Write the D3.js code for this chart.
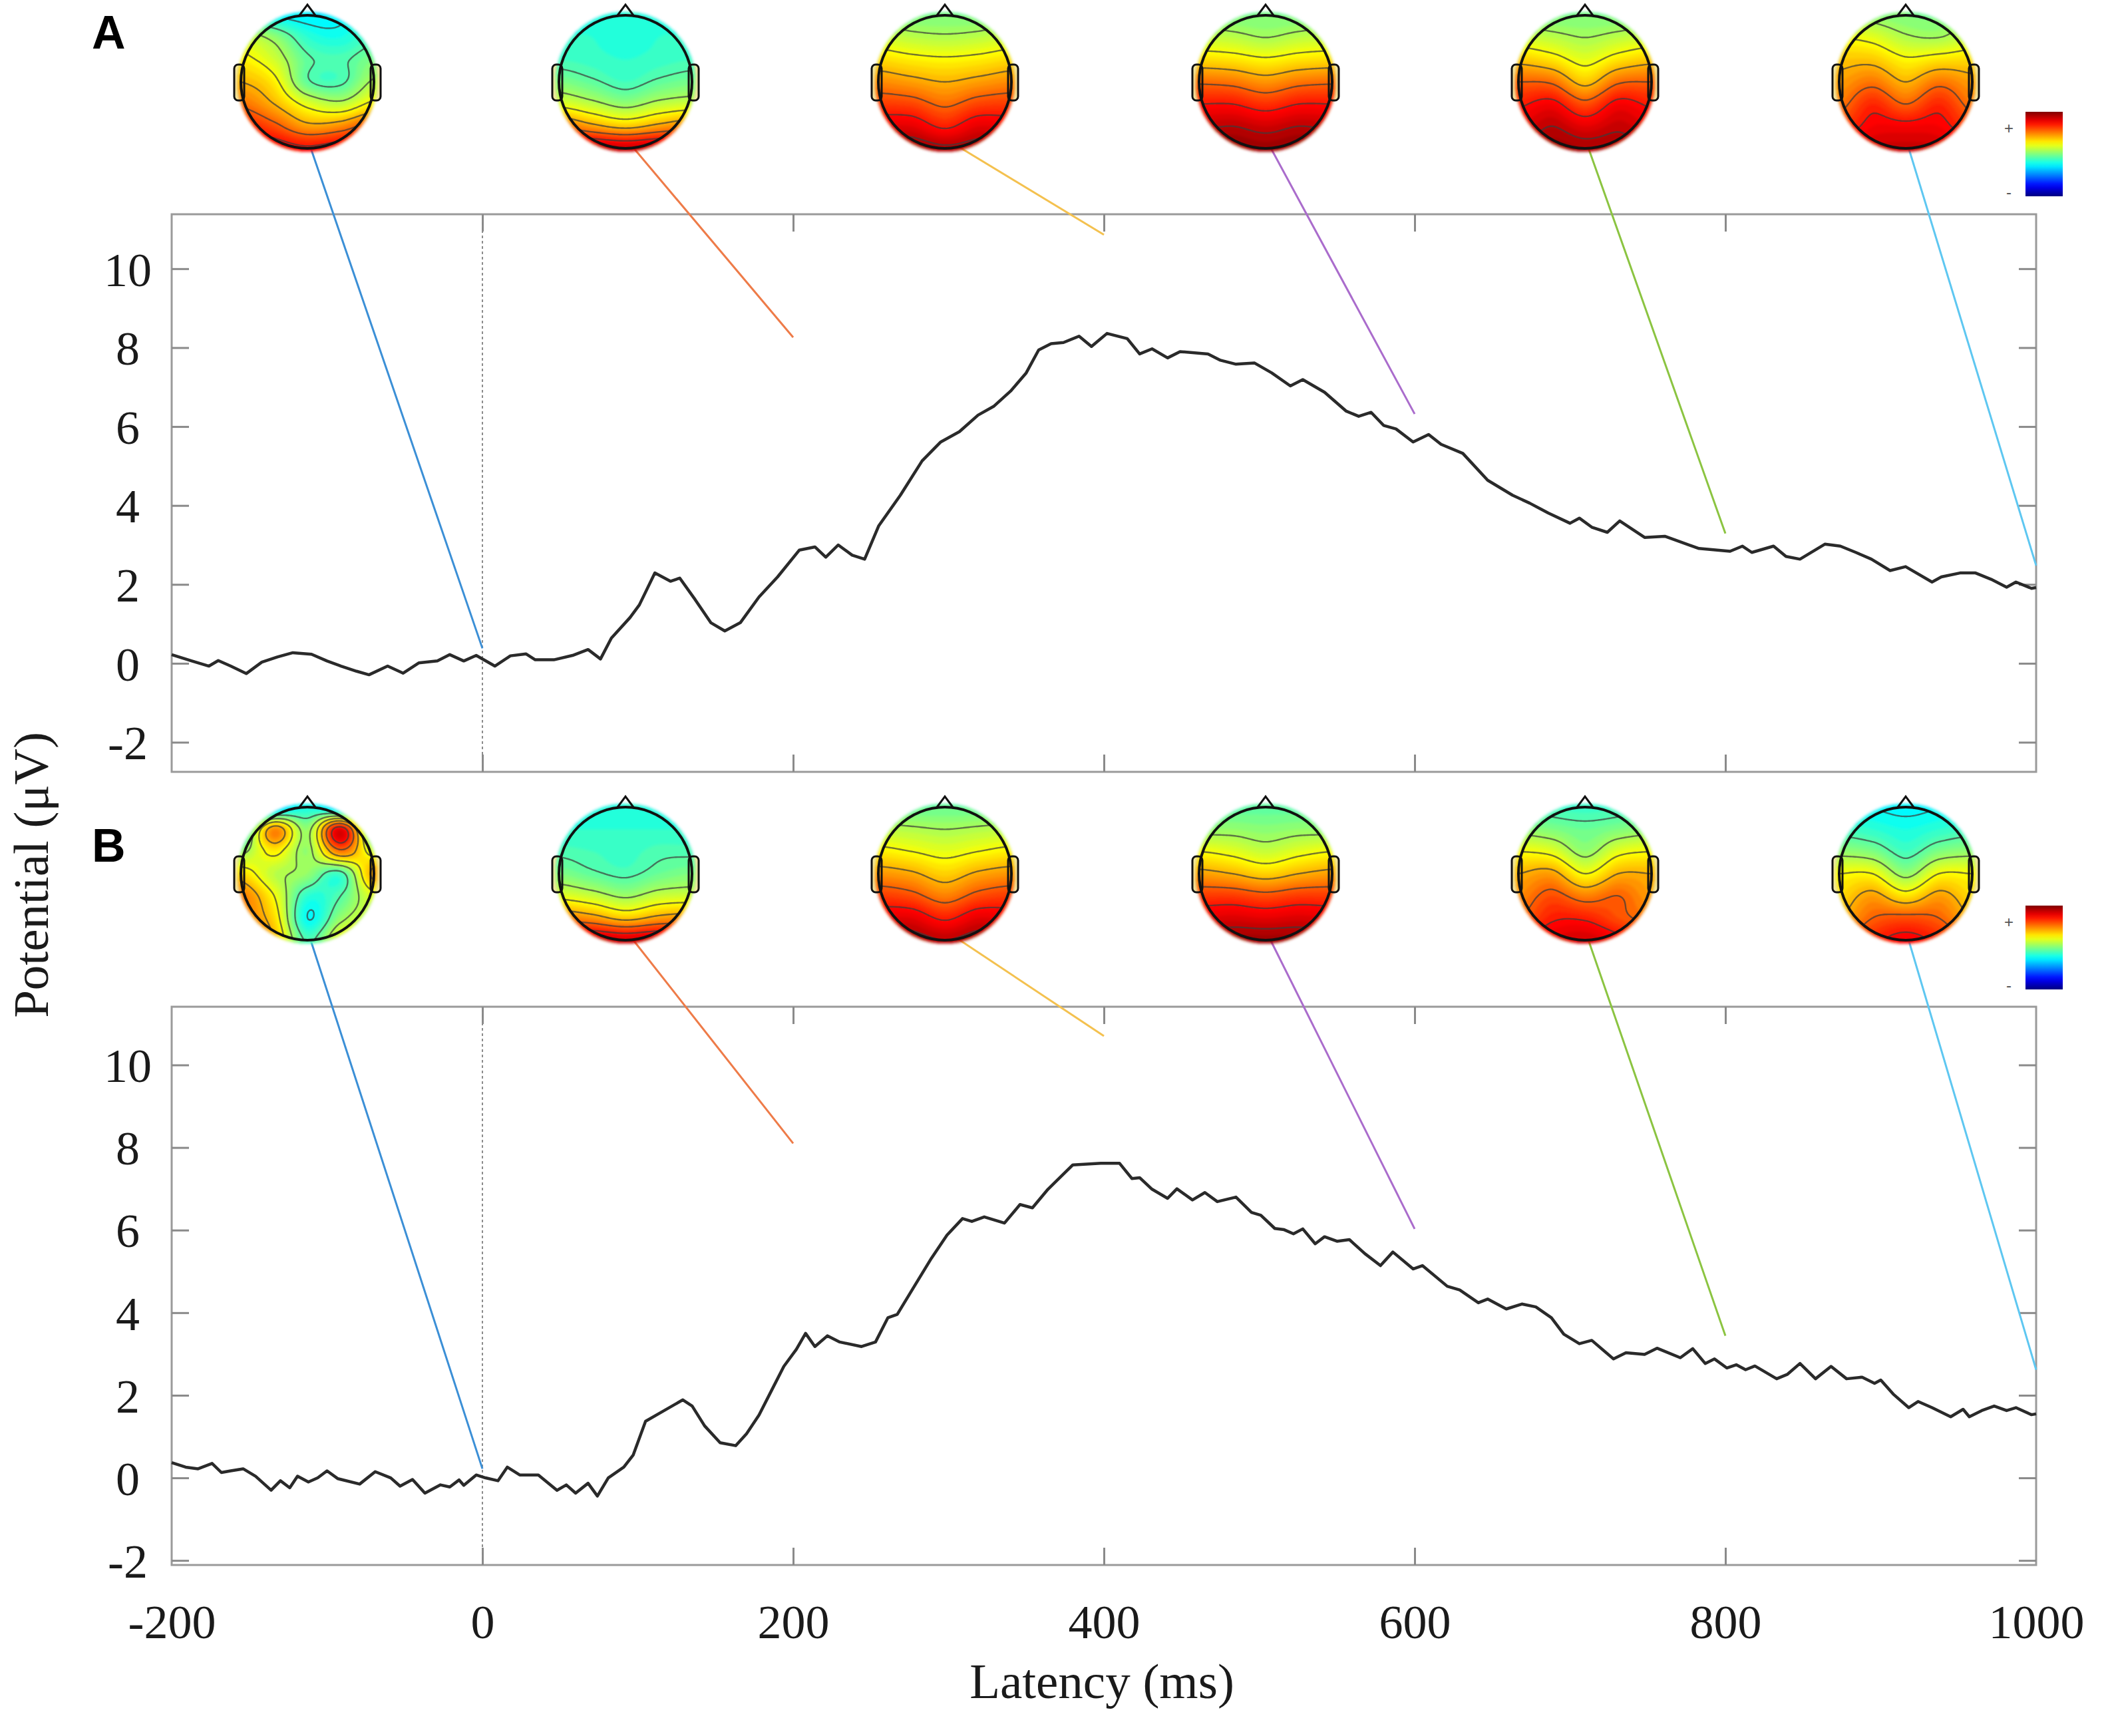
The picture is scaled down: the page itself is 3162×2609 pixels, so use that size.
<!DOCTYPE html>
<html>
<head>
<meta charset="utf-8">
<script src="https://cdn.jsdelivr.net/npm/d3@7/dist/d3.min.js"></script>
<style>
	body { margin: 0; background: #fff; }
	svg { display: block; }
	.tick text { font-family: 'Liberation Serif', 'Times New Roman', serif; font-size: 72px; fill: #1a1a1a; }
	.tick line { stroke: #8a8a8a; stroke-width: 3; }
	.axisTitle { font-family: 'Liberation Serif', 'Times New Roman', serif; font-size: 75px; fill: #1a1a1a; }
	.panelLabel { font-family: 'Liberation Sans', Arial, sans-serif; font-weight: bold; font-size: 70px; fill: #000; }
	.barSign { font-family: 'Liberation Sans', Arial, sans-serif; font-size: 24px; fill: #555; }
</style>
</head>
<body>
<svg id="chart" width="3162" height="2609"></svg>
<script>
/**********************
***** DATA *****
**********************/

// grand average waveform, panel A (latency in ms, potential in microvolts)
const latencyA = [-200, -187, -176, -170, -162, -152, -142, -132, -122, -110, -100, -91, -81, -73, -61, -51, -41, -29, -21, -12, -4,
	8, 18, 28, 34, 46, 58, 68, 76, 83, 95, 101, 111, 121, 127, 137, 147, 156, 166, 178, 190,
	204, 214, 221, 229, 238, 246, 255, 269, 283, 295, 307, 319, 329, 340, 350, 358, 366, 374, 384, 392,
	402, 415, 423, 431, 441, 449, 467, 475, 485, 497, 508, 520, 528, 542, 556, 564, 572, 580, 588, 599,
	609, 617, 631, 647, 663, 674, 686, 700, 706, 714, 724, 732, 748, 761, 783, 803, 811, 817, 831, 839,
	848, 864, 874, 884, 894, 906, 916, 933, 939, 951, 961, 971, 981, 987, 997, 1000];
const potentialA = [0.22, 0.06, -0.07, 0.07, -0.07, -0.26, 0.03, 0.16, 0.27, 0.23, 0.06, -0.07, -0.2, -0.29, -0.07, -0.25, 0.01, 0.06, 0.22, 0.06, 0.2,
	-0.07, 0.19, 0.24, 0.09, 0.09, 0.2, 0.35, 0.11, 0.64, 1.16, 1.48, 2.29, 2.08, 2.16, 1.61, 1.03, 0.82, 1.03, 1.68, 2.19,
	2.87, 2.95, 2.69, 3.0, 2.74, 2.64, 3.48, 4.26, 5.13, 5.61, 5.87, 6.29, 6.51, 6.9, 7.36, 7.94, 8.1, 8.13, 8.29, 8.03,
	8.36, 8.23, 7.84, 7.97, 7.74, 7.9, 7.84, 7.68, 7.58, 7.61, 7.36, 7.03, 7.19, 6.87, 6.39, 6.26, 6.36, 6.03, 5.94, 5.61,
	5.8, 5.55, 5.32, 4.64, 4.26, 4.06, 3.81, 3.55, 3.68, 3.45, 3.32, 3.61, 3.19, 3.22, 2.91, 2.84, 2.97, 2.81, 2.97, 2.71,
	2.64, 3.02, 2.97, 2.81, 2.64, 2.35, 2.45, 2.06, 2.19, 2.29, 2.29, 2.13, 1.93, 2.06, 1.9, 1.92];

// grand average waveform, panel B
const latencyB = [-200, -191, -183, -174, -168, -162, -154, -146, -136, -130, -124, -119, -112, -106, -100, -93, -79, -69, -59, -53, -45,
	-37, -27, -21, -15, -12, -4, 2, 10, 16, 24, 36, 48, 54, 60, 68, 74, 81, 91, 97, 105,
	117, 129, 135, 143, 153, 163, 170, 178, 186, 194, 202, 208, 214, 222, 230, 244, 253, 261, 267, 277,
	289, 299, 309, 315, 323, 336, 346, 354, 364, 380, 398, 410, 418, 423, 431, 441, 447, 457, 465, 473,
	485, 495, 501, 510, 516, 522, 528, 536, 542, 550, 558, 568, 578, 586, 599, 605, 621, 629, 641, 647,
	659, 669, 678, 688, 696, 706, 714, 728, 736, 748, 756, 771, 779, 787, 793, 801, 807, 813, 819, 833,
	840, 848, 858, 868, 878, 888, 896, 900, 908, 918, 924, 933, 945, 953, 957, 965, 973, 981, 987, 997, 1000];
const potentialB = [0.37, 0.26, 0.22, 0.35, 0.13, 0.17, 0.22, 0.04, -0.3, -0.07, -0.24, 0.04, -0.1, 0.0, 0.17, -0.02, -0.15, 0.15, 0.0, -0.2, -0.04,
	-0.37, -0.17, -0.22, -0.05, -0.18, 0.07, 0.0, -0.07, 0.26, 0.07, 0.07, -0.3, -0.17, -0.37, -0.13, -0.44, 0.0, 0.26, 0.55, 1.37,
	1.63, 1.89, 1.74, 1.26, 0.85, 0.78, 1.07, 1.52, 2.11, 2.7, 3.11, 3.5, 3.18, 3.44, 3.29, 3.18, 3.29, 3.88, 3.96, 4.58,
	5.32, 5.88, 6.28, 6.21, 6.32, 6.17, 6.62, 6.54, 6.99, 7.58, 7.62, 7.62, 7.25, 7.27, 6.99, 6.77, 7.0, 6.73, 6.91, 6.69,
	6.8, 6.43, 6.36, 6.04, 6.01, 5.91, 6.03, 5.67, 5.84, 5.73, 5.77, 5.43, 5.14, 5.47, 5.06, 5.14, 4.64, 4.55, 4.24, 4.33,
	4.09, 4.21, 4.14, 3.88, 3.48, 3.25, 3.33, 2.88, 3.03, 2.99, 3.14, 2.91, 3.13, 2.77, 2.88, 2.66, 2.74, 2.62, 2.71, 2.4,
	2.51, 2.77, 2.4, 2.7, 2.4, 2.44, 2.29, 2.37, 2.03, 1.7, 1.85, 1.7, 1.48, 1.66, 1.48, 1.63, 1.74, 1.63, 1.7, 1.53, 1.55];

// axis ticks
const yTicks = [ -2, 0, 2, 4, 6, 8, 10 ];
const xTicks = [ -200, 0, 200, 400, 600, 800, 1000 ];
const xInnerTicks = [ 0, 200, 400, 600, 800 ];

// where each topography connector meets the plot
const mapLatency = [ 0, 200, 400, 600, 800, 1000 ];
const mapEndA = [ 0.38, 8.26, 10.86, 6.32, 3.29, 2.48 ];
const mapEndB = [ 0.22, 8.1, 10.7, 6.03, 3.44, 2.62 ];
const mapColors = [ '#3b8fd6', '#ee7b48', '#f4c14f', '#aa6ccc', '#8bc441', '#5ec7f1' ];

// scalp topographies: rows front -> back, columns left -> right, 0 = negative (blue), 1 = positive (red)
const topoA = [
	[ [0.45, 0.38, 0.36, 0.37, 0.45], [0.58, 0.52, 0.42, 0.40, 0.45], [0.64, 0.58, 0.47, 0.45, 0.50], [0.70, 0.64, 0.47, 0.45, 0.55],
	  [0.77, 0.70, 0.60, 0.56, 0.64], [0.86, 0.80, 0.72, 0.74, 0.82], [0.93, 0.90, 0.87, 0.90, 0.93] ],
	[ [0.42, 0.42, 0.42, 0.42, 0.42], [0.42, 0.42, 0.41, 0.42, 0.42], [0.44, 0.43, 0.42, 0.43, 0.44], [0.50, 0.47, 0.44, 0.47, 0.49],
	  [0.60, 0.56, 0.52, 0.56, 0.58], [0.78, 0.72, 0.68, 0.72, 0.76], [0.95, 0.95, 0.93, 0.95, 0.95] ],
	[ [0.52, 0.50, 0.50, 0.50, 0.52], [0.58, 0.56, 0.55, 0.56, 0.58], [0.66, 0.64, 0.63, 0.64, 0.66], [0.74, 0.72, 0.70, 0.72, 0.74],
	  [0.82, 0.81, 0.77, 0.81, 0.82], [0.90, 0.90, 0.85, 0.90, 0.89], [0.96, 0.97, 0.95, 0.96, 0.95] ],
	[ [0.52, 0.50, 0.50, 0.50, 0.52], [0.57, 0.56, 0.54, 0.56, 0.57], [0.66, 0.65, 0.63, 0.65, 0.66], [0.77, 0.76, 0.73, 0.76, 0.77],
	  [0.86, 0.86, 0.83, 0.86, 0.86], [0.93, 0.94, 0.92, 0.94, 0.93], [0.97, 0.98, 0.97, 0.98, 0.97] ],
	[ [0.52, 0.50, 0.50, 0.50, 0.52], [0.58, 0.56, 0.54, 0.56, 0.58], [0.68, 0.65, 0.60, 0.65, 0.68], [0.78, 0.77, 0.68, 0.77, 0.78],
	  [0.85, 0.88, 0.80, 0.88, 0.85], [0.90, 0.94, 0.90, 0.93, 0.90], [0.94, 0.97, 0.96, 0.96, 0.94] ],
	[ [0.55, 0.52, 0.50, 0.50, 0.55], [0.62, 0.60, 0.55, 0.54, 0.58], [0.68, 0.68, 0.63, 0.65, 0.66], [0.72, 0.76, 0.70, 0.76, 0.72],
	  [0.76, 0.84, 0.78, 0.84, 0.76], [0.82, 0.88, 0.88, 0.88, 0.82], [0.88, 0.92, 0.93, 0.92, 0.88] ]
];
const topoB = [
	[ [0.20, 0.30, 0.40, 0.30, 0.20], [0.38, 0.74, 0.52, 0.90, 0.40], [0.52, 0.64, 0.52, 0.76, 0.58], [0.66, 0.56, 0.52, 0.44, 0.72],
	  [0.76, 0.62, 0.42, 0.46, 0.60], [0.76, 0.66, 0.38, 0.52, 0.60], [0.82, 0.70, 0.45, 0.62, 0.68] ],
	[ [0.42, 0.42, 0.42, 0.42, 0.42], [0.42, 0.42, 0.42, 0.42, 0.42], [0.45, 0.44, 0.43, 0.45, 0.45], [0.50, 0.47, 0.45, 0.48, 0.50],
	  [0.60, 0.57, 0.53, 0.57, 0.58], [0.76, 0.73, 0.68, 0.72, 0.74], [0.93, 0.94, 0.92, 0.94, 0.93] ],
	[ [0.50, 0.48, 0.48, 0.48, 0.50], [0.56, 0.55, 0.54, 0.55, 0.56], [0.64, 0.62, 0.60, 0.62, 0.64], [0.73, 0.71, 0.67, 0.71, 0.73],
	  [0.82, 0.80, 0.75, 0.80, 0.82], [0.90, 0.90, 0.85, 0.90, 0.89], [0.96, 0.96, 0.94, 0.96, 0.95] ],
	[ [0.48, 0.47, 0.47, 0.47, 0.48], [0.52, 0.52, 0.51, 0.52, 0.52], [0.62, 0.60, 0.57, 0.60, 0.62], [0.72, 0.70, 0.67, 0.70, 0.72],
	  [0.82, 0.82, 0.80, 0.82, 0.82], [0.90, 0.91, 0.90, 0.91, 0.90], [0.96, 0.97, 0.97, 0.97, 0.96] ],
	[ [0.46, 0.44, 0.43, 0.44, 0.46], [0.52, 0.50, 0.48, 0.50, 0.52], [0.62, 0.60, 0.52, 0.60, 0.62], [0.70, 0.72, 0.62, 0.70, 0.70],
	  [0.74, 0.80, 0.75, 0.78, 0.72], [0.78, 0.85, 0.85, 0.80, 0.76], [0.85, 0.90, 0.92, 0.88, 0.82] ],
	[ [0.40, 0.38, 0.37, 0.38, 0.40], [0.44, 0.42, 0.40, 0.42, 0.44], [0.52, 0.50, 0.44, 0.50, 0.52], [0.62, 0.62, 0.52, 0.62, 0.62],
	  [0.66, 0.72, 0.65, 0.72, 0.66], [0.70, 0.78, 0.80, 0.78, 0.70], [0.76, 0.84, 0.88, 0.84, 0.76] ]
];

/**********************
***** BASIC SETUP *****
**********************/

const svg = d3.select('#chart');
const plotLeft = 258;
const plotRight = 3060;
const headX = [ 462, 940, 1420, 1902, 2382, 2864 ];
const headR = 100;
const TICK = 26;

const xScale = d3.scaleLinear().domain([ -200, 1000 ]).range([ plotLeft, plotRight ]);

const panels = [
	{ key: 'A', lat: latencyA, pot: potentialA, topo: topoA, ends: mapEndA,
	  yScale: d3.scaleLinear().domain([ -2.75, 11.38 ]).range([ 1160, 322 ]),
	  headY: 123, labelY: 73, barTop: 168, barBottom: 295 },
	{ key: 'B', lat: latencyB, pot: potentialB, topo: topoB, ends: mapEndB,
	  yScale: d3.scaleLinear().domain([ -2.11, 11.41 ]).range([ 2352, 1513 ]),
	  headY: 1313, labelY: 1295, barTop: 1361, barBottom: 1487 }
];

// plain hyphen for negatives, as in the figure
const plainFormat = (d) => String(d);

// matlab style jet colour map
function jet(v) {
	const c = (x) => Math.max(0, Math.min(1, x));
	return d3.rgb(255 * c(1.5 - Math.abs(4 * v - 3)), 255 * c(1.5 - Math.abs(4 * v - 2)), 255 * c(1.5 - Math.abs(4 * v - 1))).toString();
}

const defs = svg.append('defs');
defs.append('filter').attr('id', 'soft').attr('x', '-20%').attr('y', '-20%').attr('width', '140%').attr('height', '140%')
	.append('feGaussianBlur').attr('stdDeviation', 2.2);

const grad = defs.append('linearGradient').attr('id', 'jetBar').attr('x1', 0).attr('y1', 0).attr('x2', 0).attr('y2', 1);
grad.selectAll('stop').data(d3.range(0, 1.0001, 0.05)).enter().append('stop')
	.attr('offset', (d) => d)
	.attr('stop-color', (d) => jet(1 - d));

/**********************
***** TOPOGRAPHY *****
**********************/

function catmull(p0, p1, p2, p3, t) {
	return 0.5 * (2 * p1 + (-p0 + p2) * t + (2 * p0 - 5 * p1 + 4 * p2 - p3) * t * t + (-p0 + 3 * p1 - 3 * p2 + p3) * t * t * t);
}

function drawTopo(g, grid, cx, cy, r, id) {
	const N = 90, ext = 1.12;
	const rows = grid.length, cols = grid[0].length;
	const at = (j, i) => grid[Math.max(0, Math.min(rows - 1, j))][Math.max(0, Math.min(cols - 1, i))];
	const sample = (ux, uy) => {
		const fx = Math.max(0, Math.min(cols - 1, (ux + 1) / 2 * (cols - 1)));
		const fy = Math.max(0, Math.min(rows - 1, (uy + 1) / 2 * (rows - 1)));
		const i1 = Math.min(cols - 2, Math.floor(fx)), j1 = Math.min(rows - 2, Math.floor(fy));
		const tx = fx - i1, ty = fy - j1;
		const rowVal = (j) => catmull(at(j, i1 - 1), at(j, i1), at(j, i1 + 1), at(j, i1 + 2), tx);
		const v = catmull(rowVal(j1 - 1), rowVal(j1), rowVal(j1 + 1), rowVal(j1 + 2), ty);
		return Math.max(0, Math.min(1, v));
	};
	const values = new Array(N * N);
	for (let j = 0; j < N; j++) {
		for (let i = 0; i < N; i++) {
			values[j * N + i] = sample(-ext + 2 * ext * (i + 0.5) / N, -ext + 2 * ext * (j + 0.5) / N);
		}
	}
	const path = d3.geoPath(d3.geoIdentity().scale(2 * ext * r / N).translate([ cx - ext * r, cy - ext * r ]));

	defs.append('clipPath').attr('id', 'clipFill' + id).append('circle').attr('cx', cx).attr('cy', cy).attr('r', r * 1.05);
	defs.append('clipPath').attr('id', 'clipLine' + id).append('circle').attr('cx', cx).attr('cy', cy).attr('r', r * 0.99);

	// ears sit under the map
	const earX = [ cx - r - 0.1 * r, cx + r - 0.05 * r ];
	const earW = 0.15 * r, earH = 0.54 * r;
	g.selectAll('.earBack').data(earX).enter().append('rect')
		.attr('x', (d) => d).attr('y', cy - 0.26 * r).attr('width', earW).attr('height', earH).attr('rx', 0.06 * r)
		.attr('fill', '#f3e6a0');

	const fills = g.append('g').attr('filter', 'url(#soft)')
		.append('g').attr('clip-path', `url(#clipFill${id})`);
	fills.selectAll('path')
		.data(d3.contours().size([ N, N ]).thresholds(d3.range(0, 1.0001, 0.02))(values))
		.enter().append('path')
		.attr('d', path)
		.attr('fill', (d) => jet(d.value + 0.01));

	g.append('g').attr('clip-path', `url(#clipLine${id})`)
		.selectAll('path')
		.data(d3.contours().size([ N, N ]).thresholds(d3.range(0.22, 0.99, 0.08))(values))
		.enter().append('path')
		.attr('d', path)
		.attr('fill', 'none')
		.attr('stroke', '#3c3c3c')
		.attr('stroke-opacity', 0.7)
		.attr('stroke-width', 2.4);

	g.selectAll('.ear').data(earX).enter().append('rect')
		.attr('x', (d) => d).attr('y', cy - 0.26 * r).attr('width', earW).attr('height', earH).attr('rx', 0.06 * r)
		.attr('fill', 'none').attr('stroke', '#111').attr('stroke-width', 3);

	g.append('circle').attr('cx', cx).attr('cy', cy).attr('r', r)
		.attr('fill', 'none').attr('stroke', '#111').attr('stroke-width', 4);

	g.append('path')
		.attr('d', `M${cx - 0.13 * r},${cy - 0.985 * r}L${cx},${cy - 1.16 * r}L${cx + 0.13 * r},${cy - 0.985 * r}`)
		.attr('fill', 'none').attr('stroke', '#111').attr('stroke-width', 3);
}

/**********************
***** PANELS *****
**********************/

panels.forEach(function(p) {
	const y = p.yScale;
	const top = y.range()[1], bottom = y.range()[0];
	const g = svg.append('g').attr('class', 'panel' + p.key);

	// frame
	g.append('rect')
		.attr('x', plotLeft).attr('y', top)
		.attr('width', plotRight - plotLeft).attr('height', bottom - top)
		.attr('fill', 'none').attr('stroke', '#9a9a9a').attr('stroke-width', 3);

	// inward ticks on all four sides
	const yAxisL = g.append('g').attr('transform', `translate(${plotLeft},0)`)
		.call(d3.axisLeft(y).tickValues(yTicks).tickSize(-TICK).tickPadding(0).tickFormat(plainFormat));
	yAxisL.select('.domain').remove();
	yAxisL.selectAll('text').attr('x', -66).attr('text-anchor', 'middle').attr('dy', '0.35em');

	const yAxisR = g.append('g').attr('transform', `translate(${plotRight},0)`)
		.call(d3.axisRight(y).tickValues(yTicks).tickSize(-TICK).tickFormat(''));
	yAxisR.select('.domain').remove();

	const xAxisT = g.append('g').attr('transform', `translate(0,${top})`)
		.call(d3.axisTop(xScale).tickValues(xInnerTicks).tickSize(-TICK).tickFormat(''));
	xAxisT.select('.domain').remove();

	const xAxisB = g.append('g').attr('transform', `translate(0,${bottom})`)
		.call(d3.axisBottom(xScale).tickValues(xInnerTicks).tickSize(-TICK).tickFormat(''));
	xAxisB.select('.domain').remove();

	// stimulus onset
	g.append('line')
		.attr('x1', xScale(0)).attr('x2', xScale(0))
		.attr('y1', top).attr('y2', bottom)
		.attr('stroke', '#8c8c8c').attr('stroke-width', 2).attr('stroke-dasharray', '4,4');

	// connectors from each map to its latency
	g.selectAll('.connector')
		.data(mapLatency)
		.enter().append('line')
		.attr('class', 'connector')
		.attr('x1', (d, i) => headX[i])
		.attr('y1', p.headY + 0.85 * headR)
		.attr('x2', (d) => xScale(d))
		.attr('y2', (d, i) => y(p.ends[i]))
		.attr('stroke', (d, i) => mapColors[i])
		.attr('stroke-width', 3);

	// waveform
	const wave = p.lat.map((t, i) => [ t, p.pot[i] ]);
	g.append('path')
		.datum(wave)
		.attr('d', d3.line().x((d) => xScale(d[0])).y((d) => y(d[1])))
		.attr('fill', 'none')
		.attr('stroke', '#2a2a2a')
		.attr('stroke-width', 4.5)
		.attr('stroke-linejoin', 'round');

	// topographies
	p.topo.forEach(function(grid, i) {
		drawTopo(g.append('g'), grid, headX[i], p.headY, headR, p.key + i);
	});

	// colour bar
	g.append('rect')
		.attr('x', 3044).attr('y', p.barTop)
		.attr('width', 56).attr('height', p.barBottom - p.barTop)
		.attr('fill', 'url(#jetBar)');
	g.append('text').attr('class', 'barSign').attr('x', 3019).attr('y', p.barTop + 25)
		.attr('text-anchor', 'middle').attr('dy', '0.35em').text('+');
	g.append('text').attr('class', 'barSign').attr('x', 3019).attr('y', p.barBottom - 6)
		.attr('text-anchor', 'middle').attr('dy', '0.35em').text('-');

	// panel letter
	g.append('text').attr('class', 'panelLabel').attr('x', 138).attr('y', p.labelY).text(p.key);
});

/**********************
***** X AXIS LABELS *****
**********************/

const bottomB = panels[1].yScale.range()[0];
const xLabels = svg.append('g').attr('transform', `translate(0,${bottomB})`)
	.call(d3.axisBottom(xScale).tickValues(xTicks).tickSize(0).tickPadding(0).tickFormat(plainFormat));
xLabels.select('.domain').remove();
xLabels.selectAll('text').attr('y', 110).attr('dy', 0);

svg.append('text').attr('class', 'axisTitle')
	.attr('x', 1656).attr('y', 2552)
	.attr('text-anchor', 'middle')
	.text('Latency (ms)');

svg.append('text').attr('class', 'axisTitle')
	.attr('transform', 'translate(72,1315) rotate(-90)')
	.attr('text-anchor', 'middle')
	.text('Potential (μV)');
</script>
</body>
</html>
